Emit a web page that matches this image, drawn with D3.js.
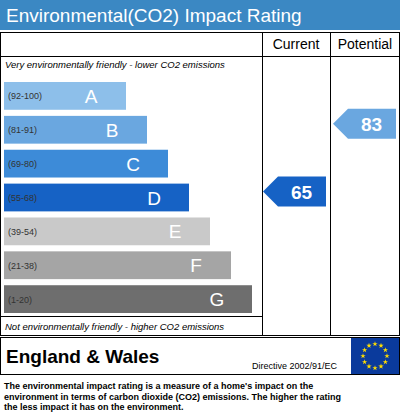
<!DOCTYPE html><html><head><script src="https://cdn.jsdelivr.net/npm/d3@7"></script>
<style>body{margin:0;background:#fff}svg{font-family:Arial,"Liberation Sans",sans-serif}</style></head><body>
<svg id="c" width="400" height="419"></svg>
<script>
const bands=["A","B","C","D","E","F","G"];
const ranges=["(92-100)","(81-91)","(69-80)","(55-68)","(39-54)","(21-38)","(1-20)"];
const colors=["#8dbfea","#6aa7e0","#3d8bd8","#1662c5","#c9c9c9","#a5a5a5","#6e6e6e"];
const current=65, potential=83;
const thresholds=[92,81,69,55,39,21,1];
const svg=d3.select("#c");
const y=d3.scaleBand().domain(bands).range([82,313]).paddingInner(0.18).paddingOuter(0);
const w=d3.scaleLinear().domain([0,6]).range([122,248]);
const bandOf=v=>bands[thresholds.findIndex(t=>v>=t)];
svg.append("rect").attr("x",0).attr("y",0).attr("width",400).attr("height",30).attr("fill","#3b88c3");
svg.append("text").attr("x",6).attr("y",22).attr("fill","#fff").attr("font-size",19).text("Environmental(CO2) Impact Rating");
const g=svg.append("g").attr("stroke","#000").attr("fill","none");
g.append("rect").attr("x",0.5).attr("y",32.5).attr("width",399).attr("height",303);
g.append("line").attr("x1",262.5).attr("x2",262.5).attr("y1",32).attr("y2",336);
g.append("line").attr("x1",330.5).attr("x2",330.5).attr("y1",32).attr("y2",336);
g.append("line").attr("x1",0).attr("x2",400).attr("y1",56.5).attr("y2",56.5);
g.append("line").attr("x1",0).attr("x2",262).attr("y1",316.5).attr("y2",316.5);
g.append("rect").attr("x",0.5).attr("y",337.5).attr("width",399).attr("height",37);
svg.append("text").attr("x",296).attr("y",49).attr("text-anchor","middle").attr("font-size",14).text("Current");
svg.append("text").attr("x",365).attr("y",49).attr("text-anchor","middle").attr("font-size",14).text("Potential");
svg.append("text").attr("x",5).attr("y",68).attr("font-size",9.5).attr("font-style","italic").text("Very environmentally friendly - lower CO2 emissions");
svg.append("text").attr("x",5).attr("y",330).attr("font-size",9.5).attr("font-style","italic").text("Not environmentally friendly - higher CO2 emissions");
bands.forEach((b,i)=>{
  const yy=y(b),h=y.bandwidth(),ww=w(i);
  svg.append("rect").attr("x",4).attr("y",yy).attr("width",ww).attr("height",h).attr("fill",colors[i]);
  svg.append("text").attr("x",8).attr("y",yy+h/2+3.5).attr("font-size",9).attr("fill","#333").text(ranges[i]);
  svg.append("text").attr("x",4+ww-35).attr("y",yy+h/2+7).attr("text-anchor","middle").attr("font-size",19).attr("fill","#fff").text(b);
});
function arrow(v,x0,x1){
  const b=bandOf(v),i=bands.indexOf(b),cy=y(b)+y.bandwidth()/2-6,h=30;
  svg.append("path").attr("d",`M${x0},${cy} L${x0+15},${cy-h/2} L${x1},${cy-h/2} L${x1},${cy+h/2} L${x0+15},${cy+h/2} Z`).attr("fill",colors[i]);
  svg.append("text").attr("x",(x0+x1)/2+7).attr("y",cy+7).attr("text-anchor","middle").attr("font-size",19).attr("font-weight","bold").attr("fill","#fff").text(v);
}
arrow(current,263,326);
arrow(potential,333,396);
svg.append("text").attr("x",6).attr("y",363).attr("font-size",19).attr("font-weight","bold").text("England & Wales");
svg.append("text").attr("x",252).attr("y",369).attr("font-size",9).text("Directive 2002/91/EC");
svg.append("rect").attr("x",351).attr("y",338).attr("width",48).attr("height",36).attr("fill","#0a3a9c");
const star=d3.symbol().type(d3.symbolStar).size(9);
for(let k=0;k<12;k++){const a=k*Math.PI/6;
  svg.append("path").attr("d",star()).attr("transform",`translate(${375+12*Math.cos(a)},${356+12*Math.sin(a)})`).attr("fill","#ffdd00");}
const desc=["The environmental impact rating is a measure of a home's impact on the","environment in terms of carbon dioxide (CO2) emissions. The higher the rating","the less impact it has on the environment."];
desc.forEach((t,i)=>svg.append("text").attr("x",4).attr("y",389+i*10.5).attr("font-size",9).attr("font-weight","bold").text(t));
</script></body></html>
